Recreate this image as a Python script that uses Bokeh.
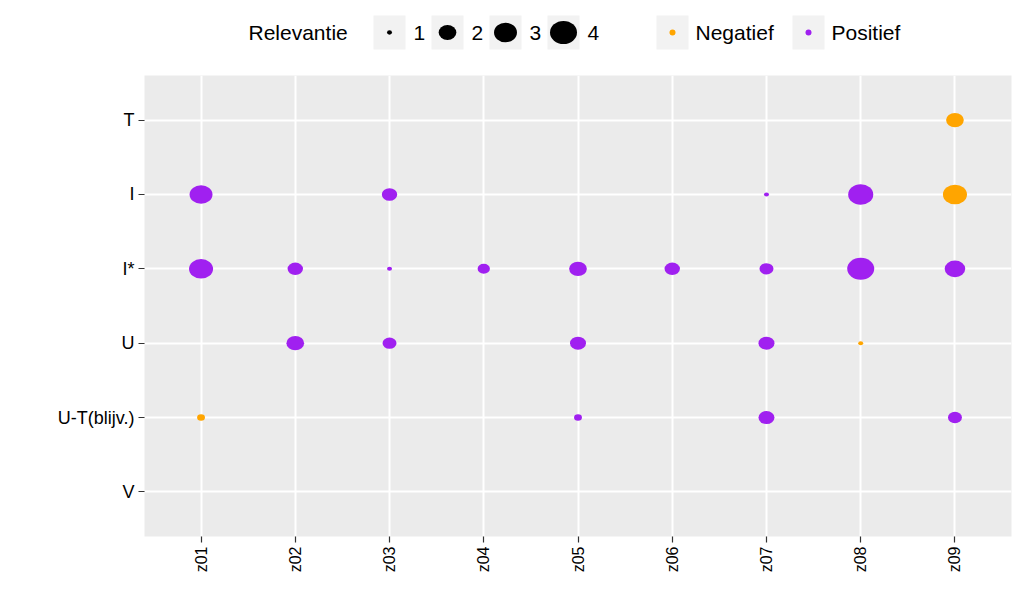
import math
from bokeh.plotting import figure
from bokeh.models import Range1d, ColumnDataSource, FactorRange
from bokeh.layouts import column
from bokeh.transform import factor_cmap
from bokeh.core.properties import value
from bokeh.embed import file_html
from bokeh.resources import INLINE

# ---------------- data ----------------
x_categories = ["z01", "z02", "z03", "z04", "z05", "z06", "z07", "z08", "z09"]
y_categories = ["V", "U-T(blijv.)", "U", "I*", "I", "T"]
richting_labels = ["Negatief", "Positief"]
richting_colors = ["#FFA500", "#A020F0"]
relevantie_breaks = [1, 2, 3, 4]

pt_z = ["z01", "z01", "z01",
        "z02", "z02",
        "z03", "z03", "z03",
        "z04",
        "z05", "z05", "z05",
        "z06",
        "z07", "z07", "z07", "z07",
        "z08", "z08", "z08",
        "z09", "z09", "z09", "z09"]
pt_cat = ["I", "I*", "U-T(blijv.)",
          "I*", "U",
          "I", "I*", "U",
          "I*",
          "I*", "U", "U-T(blijv.)",
          "I*",
          "I", "I*", "U", "U-T(blijv.)",
          "I", "I*", "U",
          "T", "I", "I*", "U-T(blijv.)"]
pt_relevantie = [3.0, 3.25, 1.05,
                 1.67, 2.0,
                 1.67, 1.0, 1.5,
                 1.33,
                 2.0, 1.75, 1.05,
                 1.67,
                 1.0, 1.5, 1.75, 1.75,
                 3.5, 4.0, 1.0,
                 2.0, 3.25, 2.5, 1.5]
pt_richting = ["Positief", "Positief", "Negatief",
               "Positief", "Positief",
               "Positief", "Positief", "Positief",
               "Positief",
               "Positief", "Positief", "Positief",
               "Positief",
               "Positief", "Positief", "Positief", "Positief",
               "Positief", "Positief", "Negatief",
               "Negatief", "Negatief", "Positief", "Positief"]

# ---------------- style helpers ----------------
FONT = "Liberation Sans"
ASPECT = 1.23
REL_MIN, REL_MAX = 1.0, 4.0
BL, BR = 144, 13  # frame borders left/right


def size_px(v):
    return 5.0 + 22.0 * math.sqrt((v - REL_MIN) / (REL_MAX - REL_MIN))


src = ColumnDataSource(dict(
    x=pt_z, y=pt_cat, rel=pt_relevantie, richting=pt_richting,
    w=[size_px(v) for v in pt_relevantie],
    h=[size_px(v) / ASPECT for v in pt_relevantie],
))

# ---------------- main plot ----------------
p = figure(width=1024, height=542,
           x_range=FactorRange(factors=x_categories, range_padding=0.1, range_padding_units="absolute"),
           y_range=FactorRange(factors=y_categories, range_padding=0.1, range_padding_units="absolute"),
           output_backend="svg", toolbar_location=None,
           min_border_left=BL, min_border_right=BR, min_border_top=13, min_border_bottom=68)

p.background_fill_color = "#EBEBEB"
p.border_fill_color = "white"
p.outline_line_color = None
p.grid.grid_line_color = "white"
p.grid.grid_line_width = 2

for ax in (p.xaxis, p.yaxis):
    ax.axis_line_color = None
    ax.major_tick_line_color = "#333333"
    ax.major_tick_line_width = 1.2
    ax.major_tick_out = 6
    ax.major_tick_in = 0
    ax.minor_tick_line_color = None
    ax.major_label_text_font = FONT
    ax.major_label_text_color = "black"
    ax.major_label_standoff = 4

p.yaxis.major_label_text_font_size = "18px"
p.xaxis.major_label_text_font_size = "16px"
p.xaxis.major_label_orientation = math.pi / 2

p.ellipse(x="x", y="y", width="w", height="h",
          width_units="screen", height_units="screen",
          source=src,
          fill_color=factor_cmap("richting", richting_colors, richting_labels),
          line_color=None)

# ---------------- legend strip ----------------
LH = 62
leg = figure(width=1024, height=LH, x_range=Range1d(BL, 1024 - BR), y_range=Range1d(LH, 0),
             output_backend="svg", toolbar_location=None,
             x_axis_location=None, y_axis_location=None,
             min_border=0, min_border_left=BL, min_border_right=BR)
leg.grid.visible = False
leg.outline_line_color = None
leg.background_fill_color = "white"
leg.border_fill_color = "white"

cy = 32
title_x = 248
key_x0, key_step = 389, 58
col_x0, col_step = 672, 136

size_keys_x = [key_x0 + i * key_step for i in range(len(relevantie_breaks))]
color_keys_x = [col_x0 + i * col_step for i in range(len(richting_labels))]

leg.text(x=[title_x], y=[cy], text=["Relevantie"], text_font=value(FONT),
         text_font_size="21px", text_baseline="middle", text_align="left", text_color="black")

allkeys = size_keys_x + color_keys_x
leg.rect(x=allkeys, y=[cy] * len(allkeys), width=32, height=34,
         width_units="screen", height_units="screen",
         fill_color="#F2F2F2", line_color=None)

leg.ellipse(x=size_keys_x, y=[cy] * len(size_keys_x),
            width=[size_px(v) for v in relevantie_breaks],
            height=[size_px(v) / ASPECT * 1.05 for v in relevantie_breaks],
            width_units="screen", height_units="screen",
            fill_color="black", line_color=None)
leg.text(x=[k + 24 for k in size_keys_x], y=[cy] * len(size_keys_x),
         text=[str(b) for b in relevantie_breaks], text_font=value(FONT),
         text_font_size="21px", text_baseline="middle", text_align="left", text_color="black")

leg.scatter(x=color_keys_x, y=[cy] * len(color_keys_x), size=6,
            marker="circle", fill_color=richting_colors, line_color=None)
leg.text(x=[k + 23 for k in color_keys_x], y=[cy] * len(color_keys_x),
         text=richting_labels, text_font=value(FONT),
         text_font_size="21px", text_baseline="middle", text_align="left", text_color="black")

layout = column(leg, p, spacing=0)
open("out.html", "w").write(file_html(layout, INLINE))
